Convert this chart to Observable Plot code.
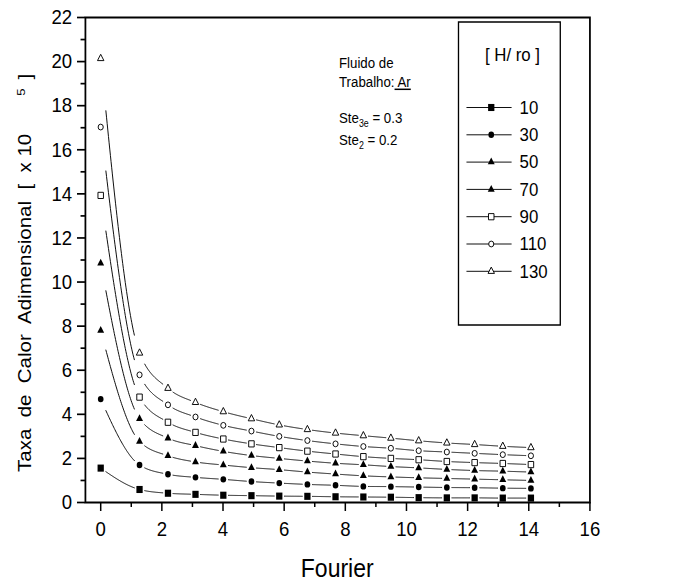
<!DOCTYPE html>
<html><head><meta charset="utf-8">
<script src="https://cdn.jsdelivr.net/npm/d3@7"></script>
<script src="https://cdn.jsdelivr.net/npm/@observablehq/plot@0.6"></script>
<style>
html,body{margin:0;padding:0;background:#fff;}
#chart{width:678px;height:585px;overflow:hidden;}
</style></head><body><div id="chart"></div>
<script>
// ---- data ----
const fourier = [0, 1.27, 2.2, 3.1, 4.01, 4.93, 5.84, 6.76, 7.68, 8.59, 9.49, 10.4, 11.32, 12.23, 13.15, 14.07];
const seriesNames = ["10", "30", "50", "70", "90", "110", "130"];
const h10  = [1.56, 0.59, 0.42, 0.37, 0.33, 0.31, 0.29, 0.28, 0.26, 0.25, 0.24, 0.22, 0.21, 0.21, 0.20, 0.20];
const h30  = [4.69, 1.70, 1.28, 1.14, 1.05, 0.95, 0.88, 0.82, 0.78, 0.73, 0.72, 0.70, 0.68, 0.67, 0.65, 0.64];
const h50  = [7.80, 2.77, 2.12, 1.84, 1.70, 1.58, 1.49, 1.38, 1.29, 1.21, 1.16, 1.12, 1.09, 1.06, 1.03, 1.00];
const h70  = [10.85, 3.80, 2.92, 2.58, 2.32, 2.13, 2.00, 1.88, 1.78, 1.71, 1.63, 1.57, 1.50, 1.45, 1.42, 1.38];
const h90  = [13.93, 4.78, 3.64, 3.18, 2.88, 2.66, 2.49, 2.33, 2.20, 2.08, 2.00, 1.94, 1.86, 1.81, 1.77, 1.72];
const h110 = [17.03, 5.79, 4.43, 3.88, 3.50, 3.24, 3.00, 2.81, 2.66, 2.54, 2.46, 2.35, 2.29, 2.23, 2.17, 2.12];
const h130 = [20.14, 6.78, 5.18, 4.54, 4.12, 3.80, 3.52, 3.31, 3.15, 3.03, 2.92, 2.80, 2.70, 2.63, 2.55, 2.49];
const xTicks = [0, 2, 4, 6, 8, 10, 12, 14, 16];
const yTicks = [0, 2, 4, 6, 8, 10, 12, 14, 16, 18, 20, 22];
const xMinor = [1, 3, 5, 7, 9, 11, 13, 15];
const yMinor = [1, 3, 5, 7, 9, 11, 13, 15, 17, 19, 21];
const xTitle = "Fourier";
const yTitle = "Taxa  de  Calor  Adimensional  [  x 10";
const yTitleExp = "5";
const legendTitle = "[ H/ ro ]";

// ---- styles ----
const seriesValues = [h10, h30, h50, h70, h90, h110, h130];
const symbols = ["square", "circle", "triangle", "triangle", "square", "circle", "triangle"];
const filled = [true, true, true, true, false, false, false];
const radii = [4.0, 3.2, 2.9, 2.9, 3.5, 2.9, 2.7];

const rows = seriesNames.flatMap((name, s) =>
  fourier.map((f, i) => ({serie: name, fourier: f, taxa: seriesValues[s][i]})));

// Origin-like line: monotone spline with gaps around the markers
function gappedMonotone(gapX, N = 60) {
  return (context) => {
    let pts = [];
    return {
      areaStart() {}, areaEnd() {},
      lineStart() { pts = []; },
      point(x, y) { pts.push([+x, +y]); },
      lineEnd() {
        const segs = []; let cur = null;
        const rec = {
          moveTo(x, y) { cur = [x, y]; },
          lineTo(x, y) { segs.push([cur, cur, [x, y], [x, y]]); cur = [x, y]; },
          bezierCurveTo(a, b, c, d, x, y) { segs.push([cur, [a, b], [c, d], [x, y]]); cur = [x, y]; },
          closePath() {}
        };
        const c = d3.curveMonotoneX(rec);
        c.lineStart(); for (const p of pts) c.point(p[0], p[1]); c.lineEnd();
        for (const [p0, p1, p2, p3] of segs) {
          let pen = false;
          for (let i = 0; i <= N; i++) {
            const t = i / N, u = 1 - t;
            const x = u*u*u*p0[0] + 3*u*u*t*p1[0] + 3*u*t*t*p2[0] + t*t*t*p3[0];
            const y = u*u*u*p0[1] + 3*u*u*t*p1[1] + 3*u*t*t*p2[1] + t*t*t*p3[1];
            const near = Math.abs(x - p0[0]) < gapX || Math.abs(x - p3[0]) < gapX;
            if (near) { pen = false; continue; }
            if (!pen) { context.moveTo(x, y); pen = true; } else context.lineTo(x, y);
          }
        }
      }
    };
  };
}

const lineMarks = seriesNames.map((name) =>
  Plot.line(rows.filter(d => d.serie === name), {
    x: "fourier", y: "taxa", curve: gappedMonotone(5.5), stroke: "black", strokeWidth: 1
  }));
const dotMarks = seriesNames.map((name, s) =>
  Plot.dot(rows.filter(d => d.serie === name), {
    x: "fourier", y: "taxa", symbol: symbols[s], r: radii[s],
    fill: filled[s] ? "black" : "white",
    stroke: filled[s] ? "none" : "black", strokeWidth: 1
  }));

// the drawing is laid out on a 766-wide canvas and shown squeezed to 678 px, like the reference
const W = 766, H = 585;
const plot = Plot.plot({
  width: W, height: H,
  marginLeft: 96, marginRight: 100, marginTop: 17, marginBottom: 83,
  style: {fontFamily: "'Liberation Sans', Arial, sans-serif", fontSize: "21px", background: "white", color: "black"},
  x: {domain: [-0.5, 16]},
  y: {domain: [0, 22]},
  marks: [
    Plot.axisX({ticks: xMinor, tickSize: 5, fill: "none", label: null, strokeWidth: 1.7}),
    Plot.axisX({ticks: xTicks, tickSize: 9, tickPadding: 10, label: null, strokeWidth: 1.7, fontSize: 21}),
    Plot.axisY({ticks: yMinor, tickSize: 5, fill: "none", label: null, strokeWidth: 1.7}),
    Plot.axisY({ticks: yTicks, tickSize: 9, tickPadding: 6, label: null, strokeWidth: 1.7, fontSize: 21}),
    ...lineMarks,
    ...dotMarks,
    Plot.frame({strokeWidth: 2})
  ]
});

const svg = d3.select(plot);
const symMap = {square: d3.symbolSquare, circle: d3.symbolCircle, triangle: d3.symbolTriangle};

// axis titles
svg.append("text")
  .attr("x", 381).attr("y", 577)
  .attr("text-anchor", "middle").attr("font-size", 26)
  .text(xTitle);
const yt = svg.append("text")
  .attr("transform", "translate(35,472) rotate(-90)")
  .attr("text-anchor", "start")
  .attr("font-size", 20.5).style("white-space", "pre");
yt.append("tspan").text(yTitle);
yt.append("tspan").attr("dx", 38).attr("dy", -7).attr("font-size", 13).text(yTitleExp);
yt.append("tspan").attr("dx", 9).attr("dy", 7).text("]");

// annotation
const ann = svg.append("g").attr("font-size", 15).attr("text-anchor", "start");
ann.append("text").attr("x", 383).attr("y", 68).text("Fluido de");
const tr = ann.append("text").attr("x", 383).attr("y", 87.5).style("white-space", "pre");
tr.append("tspan").text("Trabalho:");
tr.append("tspan").style("text-decoration", "underline").text(" Ar");
const s1 = ann.append("text").attr("x", 383).attr("y", 123).style("white-space", "pre");
s1.append("tspan").text("Ste");
s1.append("tspan").attr("dy", 4).attr("font-size", 10).text("3e");
s1.append("tspan").attr("dy", -4).text(" = 0.3");
const s2 = ann.append("text").attr("x", 383).attr("y", 145).style("white-space", "pre");
s2.append("tspan").text("Ste");
s2.append("tspan").attr("dy", 4).attr("font-size", 10).text("2");
s2.append("tspan").attr("dy", -4).text(" = 0.2");

// legend
const lg = svg.append("g");
lg.append("rect").attr("x", 518).attr("y", 22).attr("width", 115).attr("height", 303)
  .attr("fill", "white").attr("stroke", "black").attr("stroke-width", 1.5);
lg.append("text").attr("x", 579).attr("y", 55).attr("text-anchor", "middle")
  .attr("dominant-baseline", "central").attr("font-size", 19).style("white-space", "pre").text(legendTitle);
seriesNames.forEach((name, s) => {
  const y = 107.5 + 27.3 * s;
  lg.append("line").attr("x1", 527).attr("x2", 578).attr("y1", y).attr("y2", y)
    .attr("stroke", "black").attr("stroke-width", 1);
  lg.append("path").attr("transform", `translate(555,${y})`)
    .attr("d", d3.symbol(symMap[symbols[s]], radii[s] * radii[s] * Math.PI)())
    .attr("fill", filled[s] ? "black" : "white")
    .attr("stroke", filled[s] ? "none" : "black").attr("stroke-width", 1);
  lg.append("text").attr("x", 587).attr("y", y).attr("text-anchor", "start")
    .attr("dominant-baseline", "central").attr("font-size", 19).text(name);
});

// squeeze horizontally into the 678x585 frame
plot.setAttribute("viewBox", `0 0 ${W} ${H}`);
plot.setAttribute("preserveAspectRatio", "none");
plot.setAttribute("width", 678);
plot.setAttribute("height", 585);
plot.style.width = "678px";
plot.style.height = "585px";
plot.style.maxWidth = "none";
plot.style.display = "block";

document.getElementById("chart").appendChild(plot);
</script>
</body></html>
